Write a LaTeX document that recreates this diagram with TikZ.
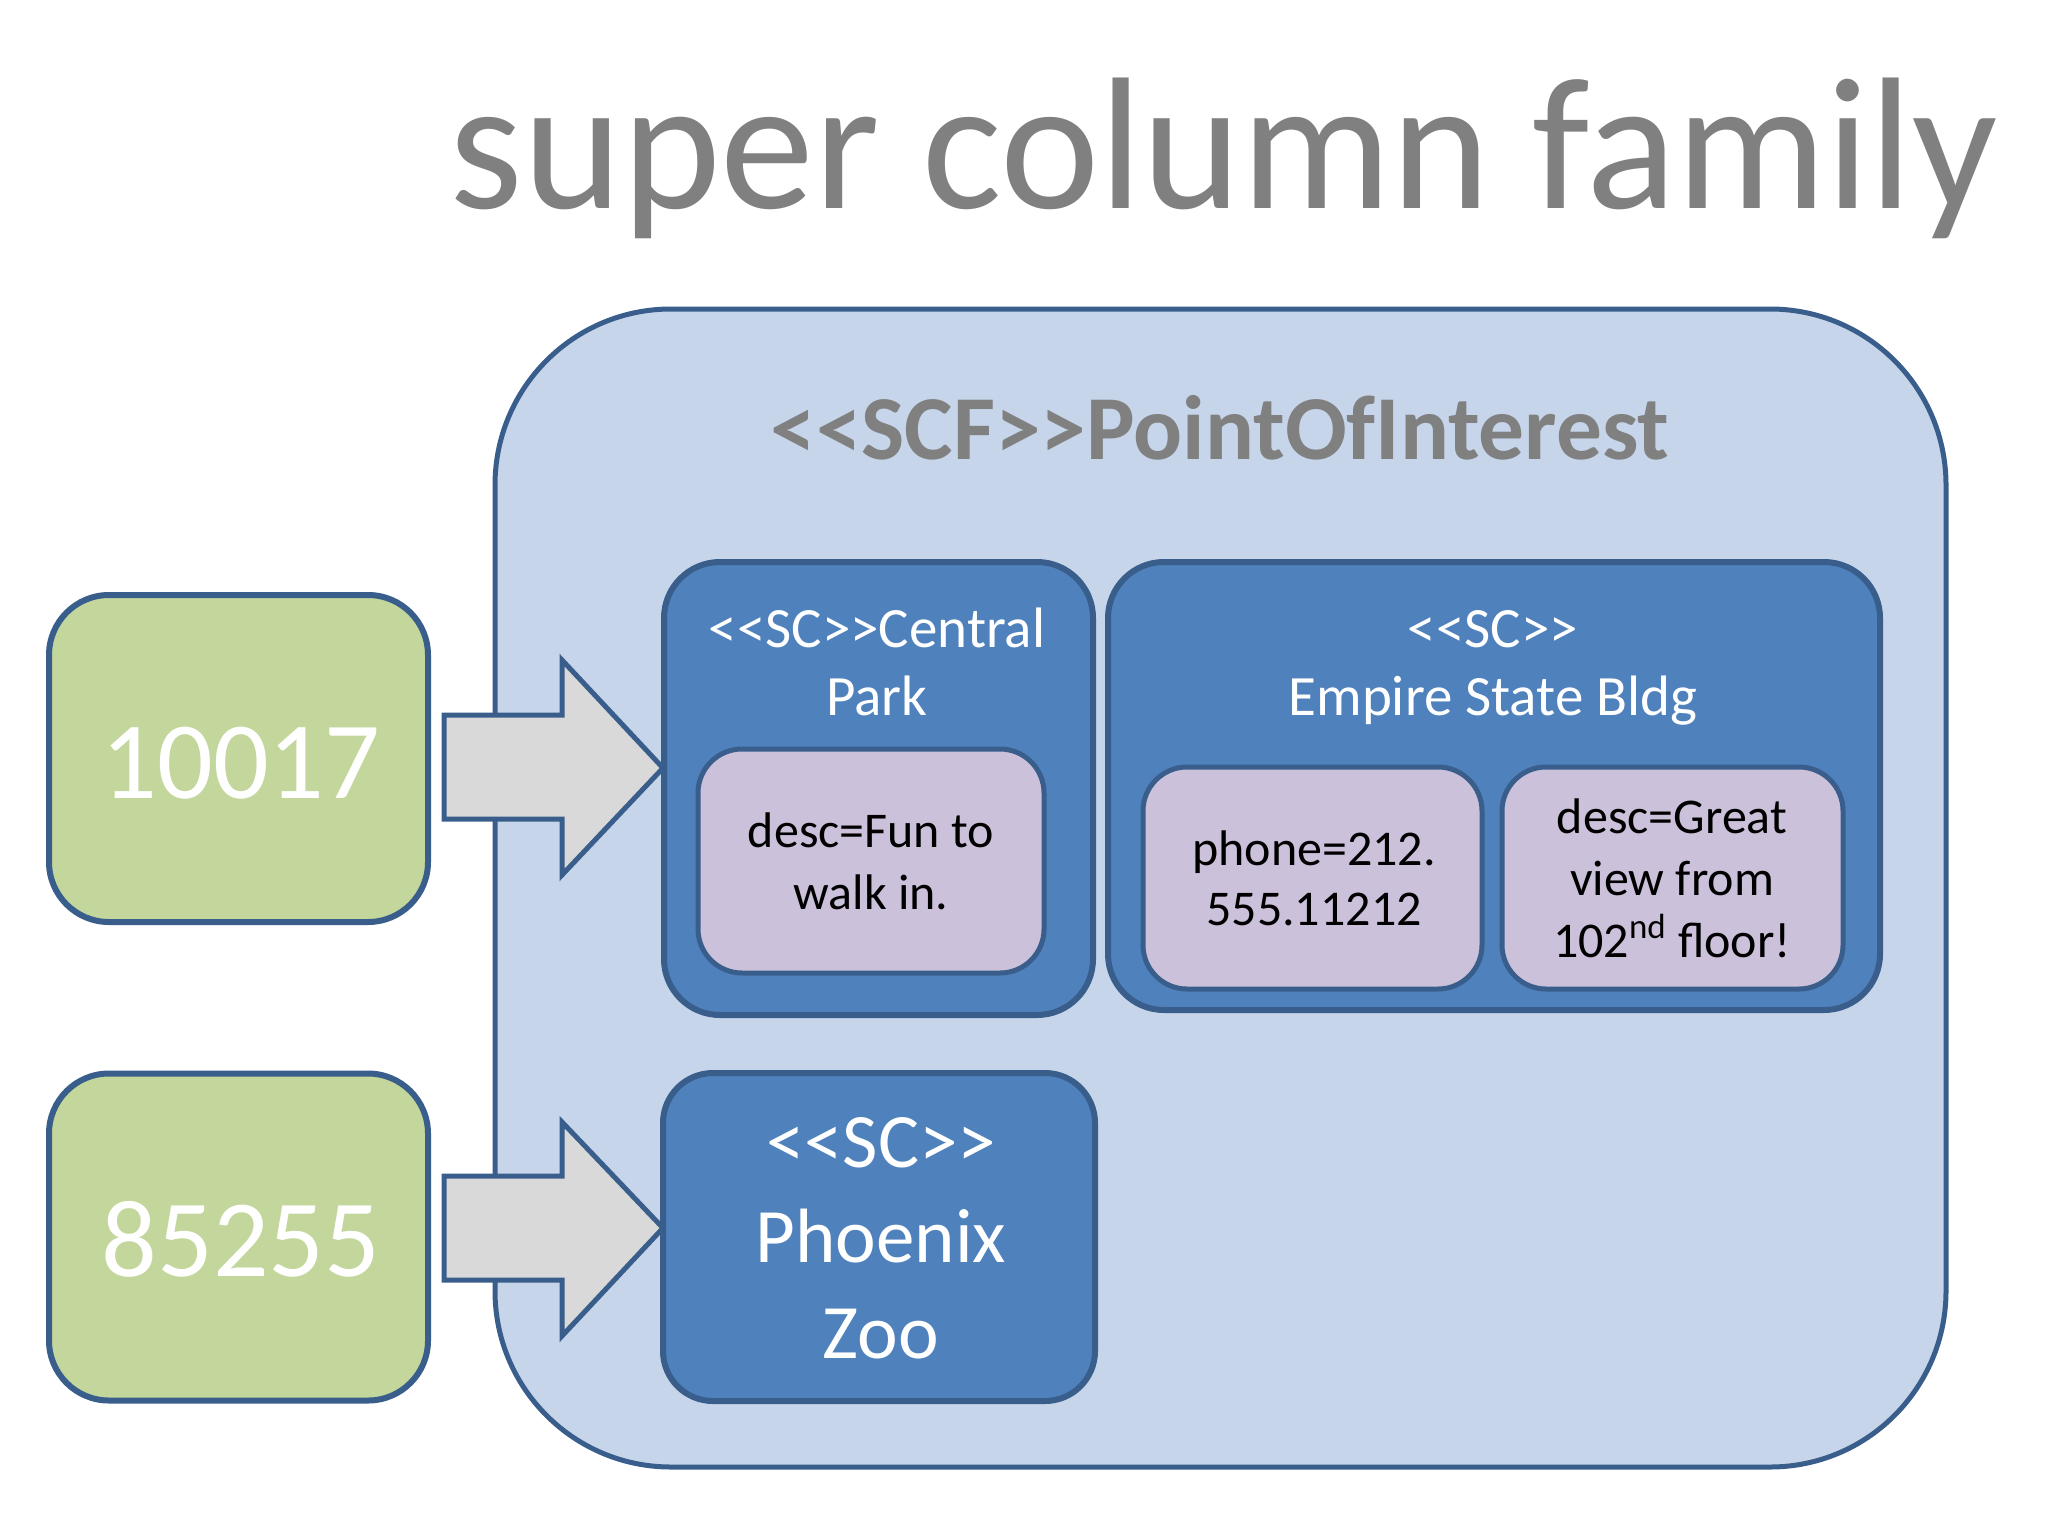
\documentclass[tikz,border=0pt]{standalone}
\usepackage{fontspec}
\setmainfont{Carlito}
\usetikzlibrary{calc}
\definecolor{edgeblue}{HTML}{3A5E8C}
\definecolor{midblue}{HTML}{4F81BD}
\definecolor{paleblue}{HTML}{C6D5EA}
\definecolor{palegreen}{HTML}{C3D69B}
\definecolor{lavender}{HTML}{CCC1DA}
\definecolor{arrowgray}{HTML}{D9D9D9}
\definecolor{titlegray}{HTML}{808080}
\tikzset{
  rbox/.style={draw=edgeblue, rectangle, inner sep=0pt, outer sep=0pt},
  outerbox/.style={rbox, fill=paleblue, line width=2.5pt, rounded corners=88pt},
  keybox/.style={rbox, fill=palegreen, line width=3pt, rounded corners=30pt, minimum width=189.5pt, minimum height=163.5pt},
  scbox/.style={rbox, fill=midblue, line width=3pt, rounded corners=28pt},
  colbox/.style={rbox, fill=lavender, line width=2.5pt, rounded corners=22pt},
  blockarrow/.style={draw=edgeblue, fill=arrowgray, line width=2.5pt, line join=miter},
  lbl/.style={inner sep=0pt, outer sep=0pt, align=center, anchor=base},
}
\begin{document}
\begin{tikzpicture}[x=0.5pt,y=-0.5pt]
\useasboundingbox[fill=white] (0,0) rectangle (2048,1536);

% title
\node[lbl, text=titlegray, font=\fontsize{94}{100}\selectfont] (title) at (1224,208) {super column family};

% outer super column family box
\node[outerbox, minimum width=725.5pt, minimum height=579pt] (scf) at (1220.5,888) {};
\node[lbl, text=titlegray, font=\bfseries\fontsize{45.7}{54}\selectfont] (scflbl) at (1220,459) {<{}<SCF>{}>PointOfInterest};

% row keys
\node[keybox] (k1) at (238.5,758.5) {};
\node[lbl, text=white, font=\fontsize{55}{66}\selectfont] (k1lbl) at (241,798) {10017};
\node[keybox] (k2) at (238.5,1237) {};
\node[lbl, text=white, font=\fontsize{55}{66}\selectfont] (k2lbl) at (241,1276) {85255};

% super columns
\node[scbox, minimum width=214.5pt, minimum height=226.5pt] (cp) at (878.5,788.5) {};
\node[scbox, minimum width=386pt, minimum height=224pt] (es) at (1494,786) {};
\node[scbox, rounded corners=25pt, minimum width=216pt, minimum height=164pt] (pz) at (879,1237) {};

\node[lbl, text=white, font=\fontsize{28.5}{34}\selectfont] (cplbl) at (877,715) {<{}<SC>{}>Central\\Park};
\node[lbl, text=white, font=\fontsize{28.5}{34}\selectfont] (eslbl) at (1493,715) {<{}<SC>{}>\\Empire State Bldg};
\node[lbl, text=white, font=\fontsize{38.5}{47.75}\selectfont] (pzlbl) at (881,1358) {<{}<SC>{}>\\Phoenix\\Zoo};

% columns
\node[colbox, minimum width=173pt, minimum height=112pt] (c1) at (871,861) {};
\node[lbl, font=\fontsize{25}{31}\selectfont] (c1lbl) at (871,909) {desc=Fun to\\walk in.};
\node[colbox, minimum width=169.5pt, minimum height=111pt] (c2) at (1312.5,878) {};
\node[lbl, font=\fontsize{25}{30}\selectfont] (c2lbl) at (1314,925) {phone=212.\\555.11212};
\node[colbox, minimum width=170.5pt, minimum height=111pt] (c3) at (1672.5,878) {};
\node[lbl, font=\fontsize{25}{31}\selectfont] (c3lbl) at (1672,957) {desc=Great\\view from\\102\textsuperscript{nd} floor!};

% block arrows from keys to super columns
\coordinate (t1) at ($(cp.west)+(-1,-20.5)$);
\draw[blockarrow] (t1) -- ++(-101,-108) -- ++(0,55) -- ++(-118,0) -- ++(0,104) -- ++(118,0) -- ++(0,56) -- cycle;
\coordinate (t2) at ($(pz.west)+(0,-9)$);
\draw[blockarrow] (t2) -- ++(-101,-106) -- ++(0,54) -- ++(-118,0) -- ++(0,104) -- ++(118,0) -- ++(0,56) -- cycle;
\end{tikzpicture}
\end{document}
